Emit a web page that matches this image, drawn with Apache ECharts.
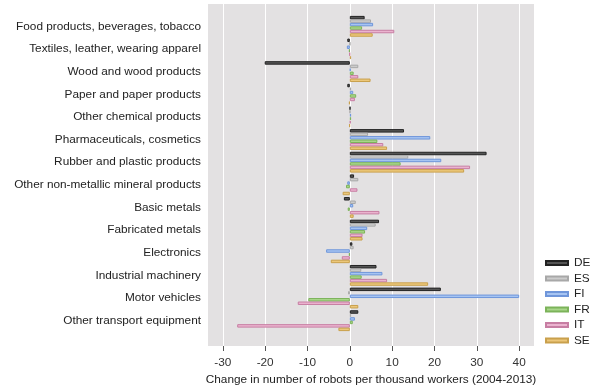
<!DOCTYPE html>
<html>
<head>
<meta charset="utf-8">
<script src="https://cdn.jsdelivr.net/npm/echarts@6/dist/echarts.min.js"></script>
<style>html,body{margin:0;padding:0;background:#fff;}#c{width:600px;height:386px;}</style>
</head>
<body>
<div id="c"></div>
<script>
var categories = ["Food products, beverages, tobacco","Textiles, leather, wearing apparel","Wood and wood products","Paper and paper products","Other chemical products","Pharmaceuticals, cosmetics","Rubber and plastic products","Other non-metallic mineral products","Basic metals","Fabricated metals","Electronics","Industrial machinery","Motor vehicles","Other transport equipment"];
var DE = [3.5, -0.6, -20.1, -0.6, 0.1, 12.8, 32.3, 1.0, -1.4, 6.9, 0.6, 6.3, 21.5, 2.0];
var ES = [5.0, 0.05, 2.0, 0.3, 0.1, 4.3, 13.8, 2.0, 1.4, 6.1, 0.9, 2.7, -0.4, 0.3];
var FI = [5.5, -0.7, 0.2, 0.8, 0.3, 19.0, 21.6, -0.6, 0.8, 4.1, -5.6, 7.7, 40.0, 1.2];
var FR = [2.9, -0.2, 0.9, 1.5, 0.3, 6.5, 12.0, -0.9, -0.5, 3.6, -0.2, 2.8, -9.8, 0.7];
var IT = [10.5, -0.05, 2.0, 1.2, 0.2, 7.9, 28.4, 1.8, 7.0, 3.0, -1.9, 8.8, -12.3, -26.6];
var SE = [5.4, 0.3, 4.9, -0.2, -0.1, 8.8, 27.0, -1.7, 0.9, 3.0, -4.5, 18.5, 2.0, -2.7];
var tickMin = -30, tickMax = 40, tickStep = 10;
var xMin = -33.5, xMax = 43.5;

var seriesDefs = [
  {name: "DE", data: DE, fill: "#555555", border: "#222222"},
  {name: "ES", data: ES, fill: "#cccccc", border: "#a8a8a8"},
  {name: "FI", data: FI, fill: "#a6c4f2", border: "#6f96da"},
  {name: "FR", data: FR, fill: "#a9d68a", border: "#7cb35a"},
  {name: "IT", data: IT, fill: "#ebb3cf", border: "#c77ea3"},
  {name: "SE", data: SE, fill: "#ecc77a", border: "#c9a04c"}
];
var font = "'Liberation Sans', Arial, sans-serif";
var W = 600, plotL = 208, plotR = 534;
var ppu = (plotR - plotL) / (xMax - xMin);
var axL = plotL + (tickMin - xMin) * ppu;
var axR = W - (plotR - (xMax - tickMax) * ppu);
var chart = echarts.init(document.getElementById('c'));
chart.setOption({
  animation: false,
  textStyle: {fontFamily: font},
  grid: [
    {left: plotL, right: W - plotR, top: 4, bottom: 40, show: true, backgroundColor: '#e3e1e2', borderWidth: 0, outerBoundsMode: 'none', containLabel: false},
    {left: plotL, right: W - plotR, top: 15, bottom: 54, outerBoundsMode: 'none', containLabel: false},
    {left: axL, right: axR, top: 4, bottom: 40, outerBoundsMode: 'none', containLabel: false}
  ],
  xAxis: [
    {gridIndex: 0, type: 'value', min: xMin, max: xMax, show: false, splitLine: {show: false}},
    {gridIndex: 1, type: 'value', min: xMin, max: xMax, show: false, splitLine: {show: false}},
    {gridIndex: 2, type: 'value', min: tickMin, max: tickMax, interval: tickStep,
     name: 'Change in number of robots per thousand workers (2004-2013)',
     nameLocation: 'middle', nameGap: 28,
     nameTextStyle: {color: '#222', fontSize: 11.8, fontFamily: font},
     axisLine: {show: true, onZero: false, lineStyle: {color: 'rgba(0,0,0,0)'}},
     axisTick: {show: true, inside: false, length: 5, lineStyle: {color: '#555', width: 1}},
     axisLabel: {color: '#333', fontSize: 11.8, margin: 11, fontFamily: font},
     splitLine: {show: true, lineStyle: {color: '#ffffff', width: 1}}}
  ],
  yAxis: [
    {gridIndex: 0, type: 'value', show: false, splitLine: {show: false}},
    {gridIndex: 1, type: 'category', data: categories, inverse: true,
     axisLine: {show: false}, axisTick: {show: false}, splitLine: {show: false},
     axisLabel: {color: '#222', fontSize: 11.8, margin: 7, fontFamily: font}},
    {gridIndex: 2, type: 'value', show: false, splitLine: {show: false}}
  ],
  legend: {
    orient: 'vertical', left: 540, top: 252, itemWidth: 22, itemHeight: 4, itemGap: 3.5,
    icon: 'rect',
    textStyle: {color: '#222', fontSize: 11.8, fontFamily: font, padding: [0,0,0,1]},
    data: seriesDefs.map(function(s){return s.name;})
  },
  series: seriesDefs.map(function(s){
    return {
      name: s.name, type: 'bar', xAxisIndex: 1, yAxisIndex: 1,
      data: s.data, barGap: '0%', barCategoryGap: '8%',
      itemStyle: {color: s.fill, borderColor: s.border, borderWidth: 1}
    };
  })
});
</script>
</body>
</html>
